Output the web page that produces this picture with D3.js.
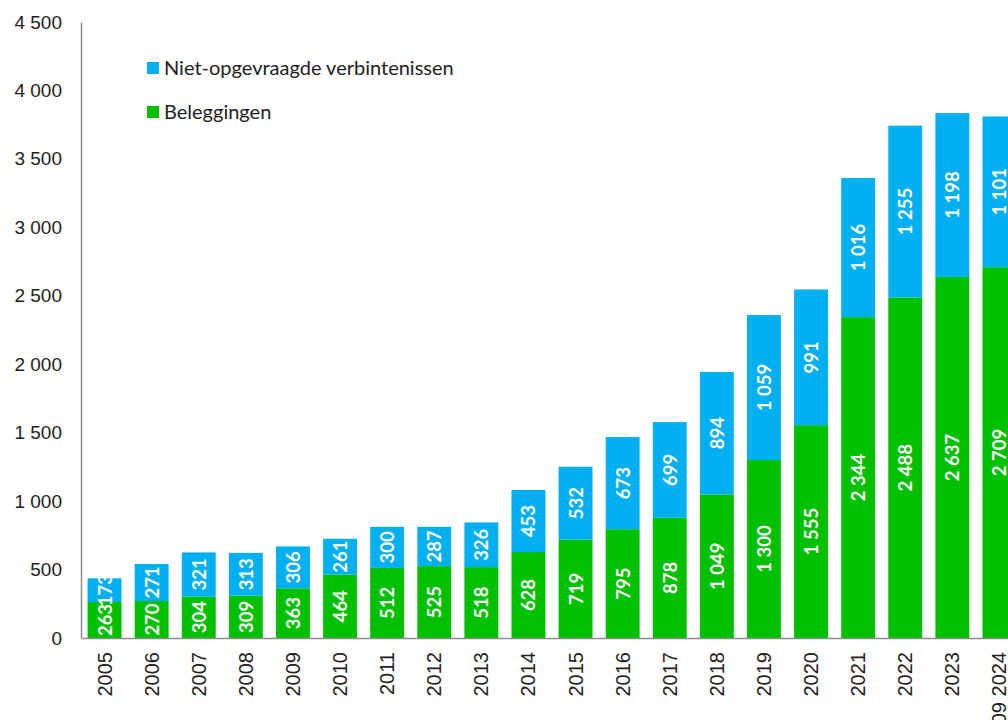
<!DOCTYPE html>
<html>
<head>
<meta charset="utf-8">
<script src="https://cdn.jsdelivr.net/npm/d3@7"></script>
<style>
  body { margin: 0; background: #fff; }
  svg { font-family: Lato, "Open Sans", sans-serif; }
</style>
</head>
<body>
<div id="chart"></div>
<script>
const years = ["2005", "2006", "2007", "2008", "2009", "2010", "2011", "2012", "2013", "2014",
  "2015", "2016", "2017", "2018", "2019", "2020", "2021", "2022", "2023", "09 2024"];
const beleggingen = [263, 270, 304, 309, 363, 464, 512, 525, 518, 628,
  719, 795, 878, 1049, 1300, 1555, 2344, 2488, 2637, 2709];
const verbintenissen = [173, 271, 321, 313, 306, 261, 300, 287, 326, 453,
  532, 673, 699, 894, 1059, 991, 1016, 1255, 1198, 1101];
const yTicks = [0, 500, 1000, 1500, 2000, 2500, 3000, 3500, 4000, 4500];
const seriesNames = ["Niet-opgevraagde verbintenissen", "Beleggingen"];

const width = 1008;
const height = 720;
const margin = {top: 22, right: -15, bottom: 82, left: 81};

const fmt = d3.formatLocale({decimal: ",", thousands: " ", grouping: [3], currency: ["", ""]}).format(",d");

const svg = d3.select("#chart")
  .append("svg")
  .attr("width", width)
  .attr("height", height);

const innerWidth = width - margin.left - margin.right;
const innerHeight = height - margin.top - margin.bottom;

const g = svg.append("g")
  .attr("transform", `translate(${margin.left}, ${margin.top})`);

const data = years.map((y, i) => ({year: y, bel: beleggingen[i], ver: verbintenissen[i]}));

const x = d3.scaleBand()
  .domain(years)
  .range([0, innerWidth])
  .paddingInner(0.28)
  .paddingOuter(0.14);

const y = d3.scaleLinear()
  .domain([0, 4500])
  .range([innerHeight, 0]);

const blue = "#00b0f0";
const green = "#00c000";

// y axis
const yAxis = g.append("g")
  .call(d3.axisLeft(y).tickValues(yTicks).tickFormat(fmt).tickSize(0).tickPadding(19));
yAxis.select(".domain").attr("stroke", "#8c8c8c").attr("stroke-width", 1.5);
yAxis.selectAll("text").attr("font-size", 19).attr("fill", "#222");

// bars
const bars = g.selectAll(".bar")
  .data(data)
  .join("g")
  .attr("class", "bar");

bars.append("rect")
  .attr("x", d => x(d.year))
  .attr("y", d => y(d.bel))
  .attr("width", x.bandwidth())
  .attr("height", d => innerHeight - y(d.bel))
  .attr("fill", green);

bars.append("rect")
  .attr("x", d => x(d.year))
  .attr("y", d => y(d.bel + d.ver))
  .attr("width", x.bandwidth())
  .attr("height", d => y(d.bel) - y(d.bel + d.ver))
  .attr("fill", blue);

// value labels
function valueLabel(sel, cy, val) {
  sel.append("text")
    .attr("transform", d => `translate(${x(d.year) + x.bandwidth() / 2 + 7}, ${cy(d)}) rotate(-90)`)
    .attr("text-anchor", "middle")
    .attr("fill", "#fff")
    .attr("font-weight", "bold")
    .attr("font-size", 18.5)
    .text(d => fmt(val(d)));
}
valueLabel(bars, d => (y(0) + y(d.bel)) / 2, d => d.bel);
valueLabel(bars, d => (y(d.bel) + y(d.bel + d.ver)) / 2, d => d.ver);

// x axis
const xAxis = g.append("g")
  .attr("transform", `translate(0, ${innerHeight})`)
  .call(d3.axisBottom(x).tickSize(0).tickPadding(0));
xAxis.select(".domain").attr("stroke", "#8c8c8c").attr("stroke-width", 1.5);
xAxis.selectAll("text")
  .attr("font-size", 20)
  .attr("fill", "#222")
  .attr("transform", "translate(7, 14) rotate(-90)")
  .attr("dy", 0)
  .attr("y", 0)
  .style("text-anchor", "end");

// legend
const legend = svg.append("g")
  .attr("transform", "translate(147, 62)");
const legendColors = [blue, green];
seriesNames.forEach((name, i) => {
  const row = legend.append("g").attr("transform", `translate(0, ${i * 44})`);
  row.append("rect").attr("width", 12).attr("height", 12).attr("fill", legendColors[i]);
  row.append("text")
    .attr("x", 17)
    .attr("y", 13)
    .attr("font-size", 20)
    .attr("fill", "#222")
    .text(name);
});
</script>
</body>
</html>
